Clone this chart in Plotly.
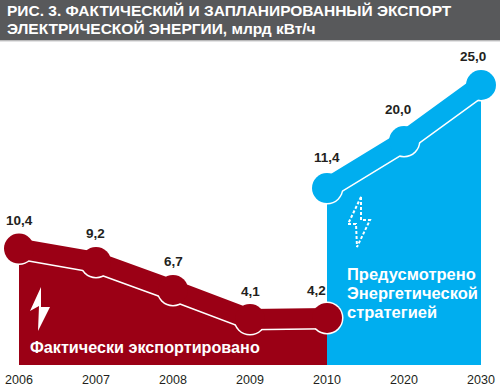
import plotly.graph_objects as go

years = ["2006", "2007", "2008", "2009", "2010", "2020", "2030"]
actual_values = [10.4, 9.2, 6.7, 4.1, 4.2]
actual_labels = ["10,4", "9,2", "6,7", "4,1", "4,2"]
planned_years = ["2010", "2020", "2030"]
# The source graphic draws the 11,4 point higher than its printed value
planned_drawn = [15.8, 20.0, 25.0]
planned_labels = ["11,4", "20,0", "25,0"]
title_lines = ["РИС. 3. ФАКТИЧЕСКИЙ И ЗАПЛАНИРОВАННЫЙ ЭКСПОРТ",
               "ЭЛЕКТРИЧЕСКОЙ ЭНЕРГИИ, млрд кВт/ч"]

RED = "#9b0015"
BLUE = "#00aeef"
FONT = "Liberation Sans"
W, H = 500, 388
PLOT_H = 365
x_idx = {y: i for i, y in enumerate(years)}
ax = [x_idx[y] for y in years[:5]]
bx = [x_idx[y] for y in planned_years]

fig = go.Figure()


def band(xs, ys, color):
    fig.add_trace(go.Scatter(x=xs, y=ys, mode="none", fill="tozeroy", fillcolor=color,
                             hoverinfo="skip", showlegend=False))
    fig.add_trace(go.Scatter(x=xs, y=ys, mode="lines+markers",
                             line=dict(color="white", width=23),
                             marker=dict(color="white", size=33),
                             hoverinfo="skip", showlegend=False))
    fig.add_trace(go.Scatter(x=xs, y=ys, mode="lines+markers",
                             line=dict(color=color, width=20),
                             marker=dict(color=color, size=30),
                             hoverinfo="skip", showlegend=False))


band(bx, planned_drawn, BLUE)
band(ax, actual_values, RED)


def px(x, y):
    return x / W, 1 - y / PLOT_H


def path(points, close=True):
    s = "M" + " L".join(f"{px(*p)[0]:.4f},{px(*p)[1]:.4f}" for p in points)
    return s + (" Z" if close else "")


bolt_solid = [(41, 287), (30, 311), (39, 306), (38, 331), (50, 307), (41, 307)]
bolt_dash = [(361, 197), (348, 224), (356, 224), (357, 247), (370, 220), (361, 220)]
shapes = [
    dict(type="rect", xref="paper", yref="paper", x0=0, x1=1, y0=px(0, 40.5)[1], y1=1,
         fillcolor="#58595b", line_width=0, layer="above"),
    dict(type="line", xref="paper", yref="paper", x0=0, x1=1, y0=px(0, 41)[1], y1=px(0, 41)[1],
         line=dict(color="#c8c8ca", width=1), layer="above"),
    dict(type="path", xref="paper", yref="paper", path=path(bolt_solid),
         fillcolor="white", line_width=0, layer="above"),
    dict(type="path", xref="paper", yref="paper", path=path(bolt_dash),
         fillcolor="rgba(0,0,0,0)", line=dict(color="white", width=2, dash="3px,2px"), layer="above"),
]

anns = []


def note(text, x, y, size, color="white", bold=True, anchor="left"):
    fx, fy = px(x, y)
    anns.append(dict(text=text, xref="paper", yref="paper", x=fx, y=fy, xanchor=anchor,
                     yanchor="middle", showarrow=False,
                     font=dict(family=FONT, size=size, color=color,
                               weight="bold" if bold else "normal")))


note(title_lines[0], 5, 10.5, 15.5)
note(title_lines[1], 5, 28, 15.5)
note("Фактически экспортировано", 28, 347, 16.2)
note("Предусмотрено", 345, 274, 16.5)
note("Энергетической", 345, 293, 16.5)
note("стратегией", 345, 312, 16.5)

a_off = [(0, 28), (-1, 28), (0, 28), (0, 28), (-11, 27)]
for x, v, t, (dx, dy) in zip(ax, actual_values, actual_labels, a_off):
    anns.append(dict(x=x, y=v, xref="x", yref="y", text=t, showarrow=False,
                     xshift=dx, yshift=dy,
                     font=dict(family=FONT, size=13.5, color="#231f20", weight="bold")))
b_off = [(0, 31), (-6, 32), (-8, 29)]
for x, v, t, (dx, dy) in zip(bx, planned_drawn, planned_labels, b_off):
    anns.append(dict(x=x, y=v, xref="x", yref="y", text=t, showarrow=False,
                     xshift=dx, yshift=dy,
                     font=dict(family=FONT, size=13.5, color="#231f20", weight="bold")))

fig.update_layout(
    width=W, height=H, margin=dict(l=0, r=0, t=0, b=H - PLOT_H), autosize=False,
    paper_bgcolor="white", plot_bgcolor="white", showlegend=False,
    shapes=shapes, annotations=anns,
    xaxis=dict(range=[-19 / 77, (W - 19) / 77], tickmode="array",
               tickvals=list(range(len(years))), ticktext=years, showgrid=False,
               zeroline=False, showline=False, ticks="outside", ticklen=3,
               tickcolor="rgba(0,0,0,0)",
               tickfont=dict(family=FONT, size=12.5, color="#231f20")),
    yaxis=dict(range=[0, PLOT_H / 11.2], visible=False, showgrid=False, zeroline=False),
)
fig.write_html("out.html", config=dict(displayModeBar=False),
               post_script="document.body.style.margin='0';")
